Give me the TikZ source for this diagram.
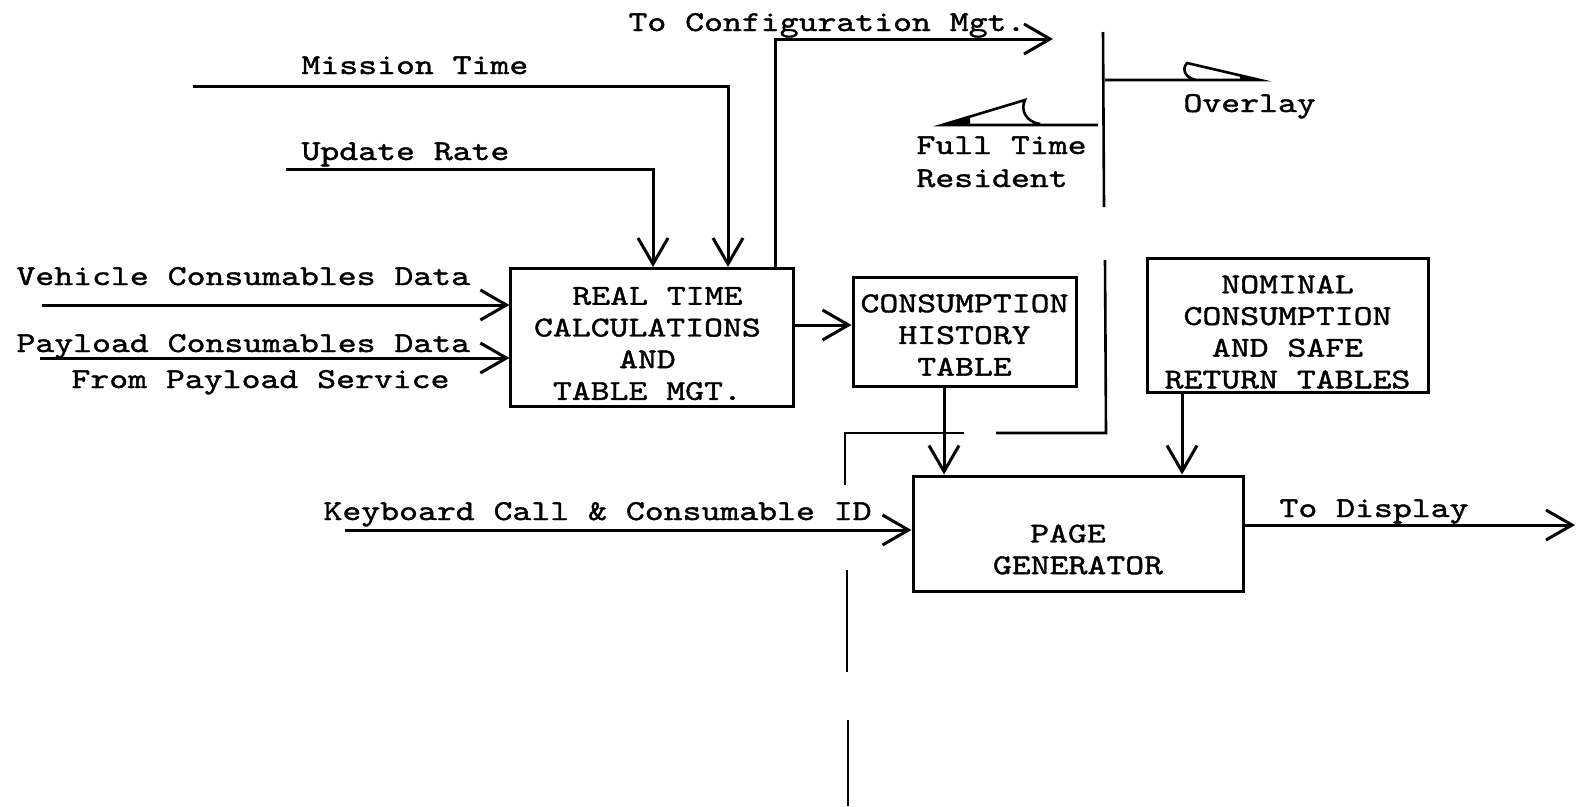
\documentclass[tikz,border=0pt]{standalone}
\usepackage{fontspec}
\newfontfamily\typewfam{lmmono10-regular.otf}[FakeStretch=1.25,FakeBold=1.3]
\newcommand\typew{\typewfam\fontsize{28.8pt}{31.7pt}\selectfont}
\usetikzlibrary{arrows.meta}
\tikzset{
  every node/.style={font=\typew, inner sep=0pt},
  lbl/.style={anchor=base west},
  boxnode/.style={draw, line width=3pt},
  boxtext/.style={align=center},
  conn/.style={line width=3pt, -{Straight Barb[length=26pt,width=30pt]}},
  divider/.style={line width=2.6pt},
}
\begin{document}
\begin{tikzpicture}[x=1pt,y=-1pt, line width=3pt]
\useasboundingbox (0,0) rectangle (1578,806);

% boxes
\node[boxnode, minimum width=283pt, minimum height=138pt,
  label={[boxtext, name=rtt, yshift=-6pt, xshift=-5pt]center:{\hspace*{20pt}REAL TIME\\CALCULATIONS\\AND\hspace*{22pt}\\TABLE MGT.}}] (rt) at (652.4,337.5) {};
\node[boxnode, minimum width=223pt, minimum height=109pt,
  label={[boxtext, name=cht, yshift=-3pt]center:{CONSUMPTION\\HISTORY\\TABLE}}] (ch) at (964.5,332) {};
\node[boxnode, minimum width=281pt, minimum height=134pt,
  label={[boxtext, name=nmt, yshift=-7pt]center:{NOMINAL\\CONSUMPTION\\AND SAFE\hspace*{19pt}\\RETURN TABLES}}] (nm) at (1287.5,325) {};
\node[boxnode, minimum width=330pt, minimum height=115pt,
  label={[boxtext, name=pgt, yshift=-16pt]center:{PAGE\hspace*{20pt}\\GENERATOR}}] (pg) at (1078,533.5) {};

% labels
\node[lbl] (lcm) at (627,31) {To Configuration Mgt.};
\node[lbl] (lmt) at (300,74) {Mission Time};
\node[lbl] (lur) at (300,160) {Update Rate};
\node[lbl] (lvc) at (15,285) {Vehicle Consumables Data};
\node[lbl] (lpc) at (15,352) {Payload Consumables Data};
\node[lbl] (lps) at (70,388) {From Payload Service};
\node[lbl] (lkb) at (322,520) {Keyboard Call \& Consumable ID};
\node[lbl] (ltd) at (1278,517) {To Display};
\node[lbl] (lov) at (1182,112) {Overlay};
\node[lbl] (lft) at (915,154) {Full Time};
\node[lbl] (lrs) at (915,187) {Resident};

% connector coordinates
\coordinate (mtS) at (193,86);  \coordinate (mtX) at (728,0);
\coordinate (urS) at (286,169); \coordinate (urX) at (653,0);
\coordinate (cmX) at (775,0);   \coordinate (cmE) at (1053,39);
\coordinate (vcS) at (42,305);
\coordinate (pcS) at (40,358);
\coordinate (rtch) at (0,325);
\coordinate (chX) at (944,0);
\coordinate (nmX) at (1182,0);
\coordinate (kbS) at (345,530);
\coordinate (tdE) at (1575,525);

\draw[conn] (mtS) -| (mtX |- rt.north);
\draw[conn] (urS) -| (urX |- rt.north);
\draw[conn] (cmX |- rt.north) |- (cmE);
\draw[conn] (vcS) -- (vcS -| rt.west);
\draw[conn] (pcS) -- (pcS -| rt.west);
\draw[conn] (rtch -| rt.east) -- (rtch -| ch.west);
\draw[conn] (chX |- ch.south) -- (chX |- pg.north);
\draw[conn] (nmX |- nm.south) -- (nmX |- pg.north);
\draw[conn] (kbS) -- (kbS -| pg.west);
\draw[conn] (tdE -| pg.east) -- (tdE);

% divider lines
\draw[divider] (1103,32) -- (1104,207);
\draw[divider] (1105,260) -- (1106,433) -- (996,433);
\draw[divider] (964,433) -- (845,433) -- (845,485);
\draw[divider] (847,570) -- (847,672);
\draw[divider] (848,720) -- (848,806);

% overlay / full time resident half arrows
\coordinate (ovS) at (1105,80); \coordinate (ovT) at (1260,80);
\draw[line width=2.6pt] (ovS) -- (ovT) -- (1187,63) .. controls (1181,70) and (1186,78) .. (1196,80);
\fill (ovT) -- (1240,75.3) -- (1240,80) -- cycle;
\coordinate (ftS) at (1098,125); \coordinate (ftT) at (942,125);
\draw[line width=2.6pt] (ftS) -- (ftT) -- (1025,100) .. controls (1020,110) and (1026,122) .. (1040,124);
\fill (ftT) -- (970,116.6) -- (970,125) -- cycle;
\end{tikzpicture}
\end{document}
